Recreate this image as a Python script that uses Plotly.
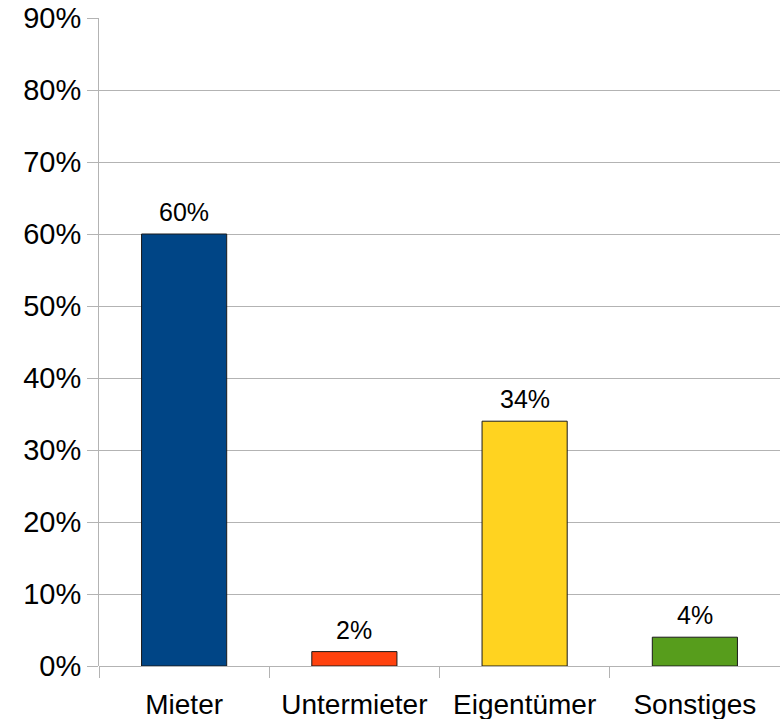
import plotly.graph_objects as go

categories = ["Mieter", "Untermieter", "Eigentümer", "Sonstiges"]
values = [60, 2, 34, 4]
colors = ["#004586", "#ff420e", "#ffd320", "#579d1c"]
y_ticks = [0, 10, 20, 30, 40, 50, 60, 70, 80, 90]

fig = go.Figure(go.Bar(
    x=categories,
    y=values,
    marker=dict(color=colors, line=dict(color="#1a1a1a", width=1)),
    cliponaxis=False,
    width=0.5,
))

for c, v in zip(categories, values):
    fig.add_annotation(
        x=c, y=v, text=f"{v}%", showarrow=False,
        yanchor="bottom", yshift=6,
        font=dict(family="Liberation Sans", size=25, color="black"),
    )

fig.update_layout(
    width=780, height=719,
    margin=dict(l=99, r=0, t=18, b=53, autoexpand=False),
    paper_bgcolor="white", plot_bgcolor="white",
    showlegend=False,
    font=dict(family="Liberation Sans", color="black"),
    xaxis=dict(
        type="category",
        automargin=False,
        tickson="boundaries",
        ticks="outside", ticklen=11, tickcolor="#b3b3b3", tickwidth=1,
        showgrid=False,
        showline=False,
        tickfont=dict(size=28),
        ticklabelstandoff=19,
        range=[-0.5, 3.5],
    ),
    yaxis=dict(
        automargin=False,
        range=[0, 90],
        tickvals=y_ticks,
        ticktext=[f"{t}%" for t in y_ticks],
        ticks="outside", ticklen=11, tickcolor="#b3b3b3", tickwidth=1,
        showgrid=True, gridcolor="#b3b3b3", gridwidth=1,
        zeroline=True, zerolinecolor="#b3b3b3", zerolinewidth=1,
        showline=True, linecolor="#b3b3b3", linewidth=1,
        tickfont=dict(size=29),
    ),
)

fig.write_html(
    "out.html",
    config={"displayModeBar": False},
    post_script="document.body.style.margin='0';document.body.style.overflow='hidden';",
)
